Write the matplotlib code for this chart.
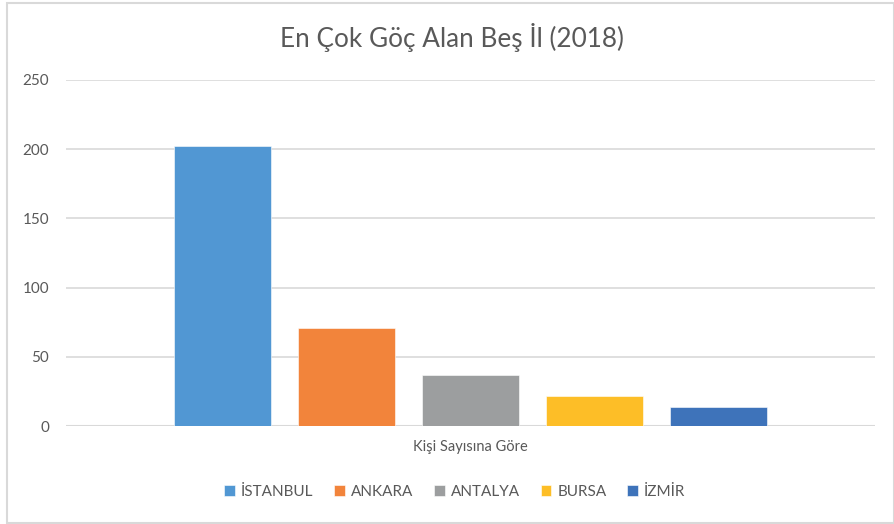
import matplotlib
matplotlib.use("Agg")
import matplotlib.pyplot as plt
from matplotlib.patches import Rectangle
import numpy as np

plt.rcParams['font.family'] = ['Lato', 'DejaVu Sans']

title = "En Çok Göç Alan Beş İl (2018)"
category = "Kişi Sayısına Göre"
series = ["İSTANBUL", "ANKARA", "ANTALYA", "BURSA", "İZMİR"]
values = [202, 71, 37, 22, 14]
colors = ["#5197d3", "#f2843b", "#9c9e9f", "#fdbe27", "#3e73ba"]
yticks = [0, 50, 100, 150, 200, 250]

W, H = 894, 524
fig = plt.figure(figsize=(W / 100, H / 100), dpi=100)
ax = fig.add_axes([66 / W, 1 - 426 / H, (875 - 66) / W, (426 - 80) / H])

width = 97 / 809
step = 124 / 809
n = len(series)
for i, (s, v, c) in enumerate(zip(series, values, colors)):
    x = (i - (n - 1) / 2) * step
    ax.bar(x, v, width=width, color=c, label=s, edgecolor='white', linewidth=0.4, zorder=3)

ax.set_xlim(-0.5, 0.5)
ax.set_ylim(0, 250)
ax.set_yticks(yticks)
ax.set_yticklabels([str(t) for t in yticks], color="#595959", fontsize=11)
ax.tick_params(axis='y', length=0, pad=12)
ax.set_xticks([0])
ax.set_xticklabels([category], color="#595959", fontsize=10.5)
ax.tick_params(axis='x', length=0, pad=10)
ax.grid(axis='y', color="#d9d9d9", linewidth=1.2, zorder=0)
for sp in ax.spines.values():
    sp.set_visible(False)
ax.axhline(0, color="#d9d9d9", linewidth=1.5, zorder=2)

fig.text(452 / W, 1 - 38 / H, title, ha='center', va='center', fontsize=18.8, color="#595959")

handles, labels = ax.get_legend_handles_labels()
leg = fig.legend(handles, labels, loc='center', bbox_to_anchor=(455 / W, 1 - 492 / H), ncol=5,
                 frameon=False, fontsize=11, handlelength=0.7, handleheight=0.7,
                 handletextpad=0.4, columnspacing=1.35, labelcolor="#595959")

fig.patches.append(Rectangle((6.5 / W, 1.5 / H), (W - 6.5) / W, (521.5 - 1.5) / H,
                             transform=fig.transFigure, fill=False,
                             edgecolor="#d9d9d9", linewidth=1.5))

fig.savefig("out.png", dpi=100)
